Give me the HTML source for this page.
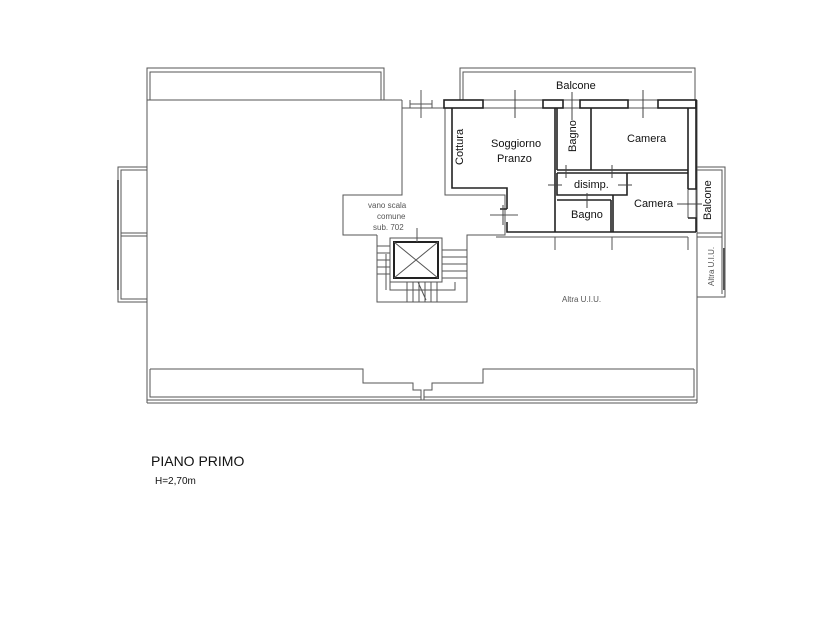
<!DOCTYPE html>
<html><head><style>body{margin:0;background:#fff}svg{display:block}text{font-family:"Liberation Sans",sans-serif}</style></head><body>
<svg width="840" height="630" viewBox="0 0 840 630" xmlns="http://www.w3.org/2000/svg">
<g fill="none" stroke="#555" stroke-width="1">
<path d="M147 100 V400 H697 V100"/>
<path d="M147 100 V68 H384 V100 M150 100 V72 H381 V100"/>
<path d="M460 100 V68 H695 V100 M463 100 V72 H692"/>
<line x1="147" y1="100" x2="402" y2="100"/>
<path d="M150 369 H363 V383 H413 V390 H421 V400 M150 369 V397 H421"/>
<path d="M694 369 H483 V383 H432 V390 H424 V400 M694 369 V397 H424"/>
<line x1="147" y1="403" x2="697" y2="403"/>
<line x1="147" y1="400" x2="147" y2="403"/><line x1="697" y1="400" x2="697" y2="403"/>
<path d="M147 167 H118 V302 H147 M147 170 H121 V299 H147 M121 233 H147 M121 236 H147"/>
<line x1="118" y1="180" x2="118" y2="290" stroke-width="2"/>
<path d="M697 167 H725 V297 H697 M697 170 H722 V294 M697 233 H722 M697 237 H722"/>
<line x1="724" y1="248" x2="724" y2="290" stroke-width="2"/>
<path d="M402 100 V108 H445 M402 108 V195 H343 V235 H377 M445 108 V195 H505 V235 H467 V302 H377 V235"/>
<path d="M410 100 V108 M432 100 V108 M410 104 H432"/>
<line x1="421" y1="90" x2="421" y2="118"/>
<rect x="390" y="238" width="52" height="44"/>
<rect x="394" y="242" width="44" height="36" stroke="#222" stroke-width="2"/>
<path d="M394 242 L438 278 M438 242 L394 278"/>
<path d="M377 246 H390 M377 253 H390 M377 260 H390 M377 267 H390 M377 274 H390 M442 250 H467 M442 257 H467 M442 264 H467 M442 271 H467 M442 278 H467"/>
<path d="M390 282 V290 H455 V282 M386 254 V290 M407 282 V302 M413 282 V302 M419 282 V302 M425 282 V302 M431 282 V302 M437 282 V302 M418 282 L426 300"/>
<line x1="417" y1="228" x2="417" y2="242"/>
<path d="M490 215 H518"/>
<line x1="496" y1="237" x2="688" y2="237"/>
<path d="M555 237 V250 M612 237 V250 M688 237 V250"/>
<!-- windows thin lines -->
<path d="M483 100 H543 M483 108 H543 M563 100 H580 M563 108 H580 M628 100 H658 M628 108 H658"/>
<path d="M688 189 V218 M696 189 V218"/>
</g>
<g fill="none" stroke="#222" stroke-width="1.6">
<rect x="444" y="100" width="39" height="8"/>
<rect x="543" y="100" width="20" height="8"/>
<rect x="580" y="100" width="48" height="8"/>
<rect x="658" y="100" width="38" height="8"/>
<path d="M696 100 V189 H688 M688 108 V189"/>
<path d="M688 218 H696 V232 M452 108 V188 H507 V209 M500 209 H507 M507 222 V232 H696"/>
<path d="M555 108 V232 M557 108 V170 M591 108 V170 M557 170 H688 M557 173 H688"/>
<path d="M557 173 V195 H627 V173 M557 200 H611 M611 200 V232 M613 195 V232"/>
</g>
<g stroke="#444" stroke-width="1">
<line x1="515" y1="90" x2="515" y2="118"/><line x1="572" y1="92" x2="572" y2="120"/><line x1="643" y1="90" x2="643" y2="118"/>
<line x1="566" y1="165" x2="566" y2="178"/><line x1="612" y1="165" x2="612" y2="178"/>
<line x1="548" y1="185" x2="562" y2="185"/><line x1="618" y1="185" x2="632" y2="185"/>
<line x1="587" y1="193" x2="587" y2="208"/><line x1="677" y1="204" x2="702" y2="204"/>
<line x1="503" y1="205" x2="503" y2="225"/>
</g>
<g font-size="11" fill="#111">
<text x="556" y="89">Balcone</text>
<text x="491" y="147">Soggiorno</text>
<text x="497" y="162">Pranzo</text>
<text x="627" y="142">Camera</text>
<text x="574" y="188">disimp.</text>
<text x="571" y="218">Bagno</text>
<text x="634" y="207">Camera</text>
<text transform="translate(463 165) rotate(-90)">Cottura</text>
<text transform="translate(576 152) rotate(-90)">Bagno</text>
<text transform="translate(711 220) rotate(-90)">Balcone</text>
</g>
<g font-size="8" fill="#555">
<text x="368" y="208">vano scala</text>
<text x="377" y="219">comune</text>
<text x="373" y="230">sub. 702</text>
<text x="562" y="302">Altra U.I.U.</text>
<text transform="translate(714 286) rotate(-90)">Altra U.I.U.</text>
</g>
<text x="151" y="466" font-size="14" fill="#111">PIANO PRIMO</text>
<text x="155" y="484" font-size="10" fill="#111">H=2,70m</text>
</svg>
</body></html>
